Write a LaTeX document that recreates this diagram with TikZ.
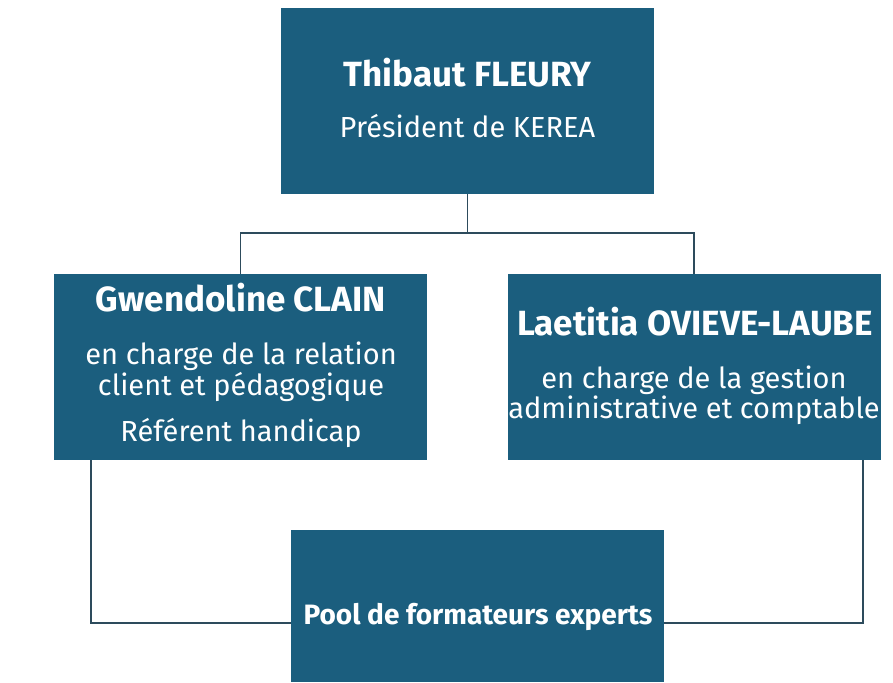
\documentclass[tikz,border=0pt]{standalone}
\usepackage{fontspec}
\setmainfont{Fira Sans}
\usetikzlibrary{calc}
\definecolor{boxblue}{RGB}{27,94,126}
\definecolor{linecol}{RGB}{45,75,92}
\begin{document}
\begin{tikzpicture}[x=1pt,y=-1pt,
  orgbox/.style={fill=boxblue, draw=none, inner sep=0pt, minimum width=373pt},
  nametxt/.style={text=white, anchor=base, inner sep=0pt, font=\fontsize{35}{40}\selectfont\bfseries},
  roletxt/.style={text=white, anchor=base, inner sep=0pt, font=\fontsize{29}{34}\selectfont},
  conn/.style={draw=linecol, line width=1.6pt}]
\useasboundingbox (0,0) rectangle (893,682);
% boxes
\node[orgbox, minimum height=186pt] (top) at (467.5,101) {};
\node[orgbox, minimum height=186pt] (left) at (240.5,367) {};
\node[orgbox, minimum height=186pt] (right) at (694,367) {};
\node[orgbox, minimum height=152pt] (pool) at (477.5,606) {};
% texts
\node[nametxt] (t1) at (467.5,87) {Thibaut FLEURY};
\node[roletxt] (t2) at (467.5,137) {Président de KEREA};
\node[nametxt] (l1) at (241,311) {Gwendoline CLAIN};
\node[roletxt] (l2) at (241,364) {en charge de la relation};
\node[roletxt] (l3) at (241,395) {client et pédagogique};
\node[roletxt] (l4) at (241,441) {Référent handicap};
\node[nametxt] (r1) at (695,335) {Laetitia OVIEVE-LAUBE};
\node[roletxt] (r2) at (694,388) {en charge de la gestion};
\node[roletxt] (r3) at (694,418) {administrative et comptable};
\node[nametxt, font=\fontsize{28}{32}\selectfont\bfseries] (p1) at (478,624) {Pool de formateurs experts};
% connectors
\coordinate (j) at (467.5,233);
\draw[conn] (top.south) -- (j);
\draw[conn] (left.north) |- (j) -| (right.north);
\draw[conn] ($(left.south west)+(37,0)$) |- ($(pool.west)+(0,17)$);
\draw[conn] ($(right.south east)+(-18,0)$) |- ($(pool.east)+(0,17)$);
\end{tikzpicture}
\end{document}
